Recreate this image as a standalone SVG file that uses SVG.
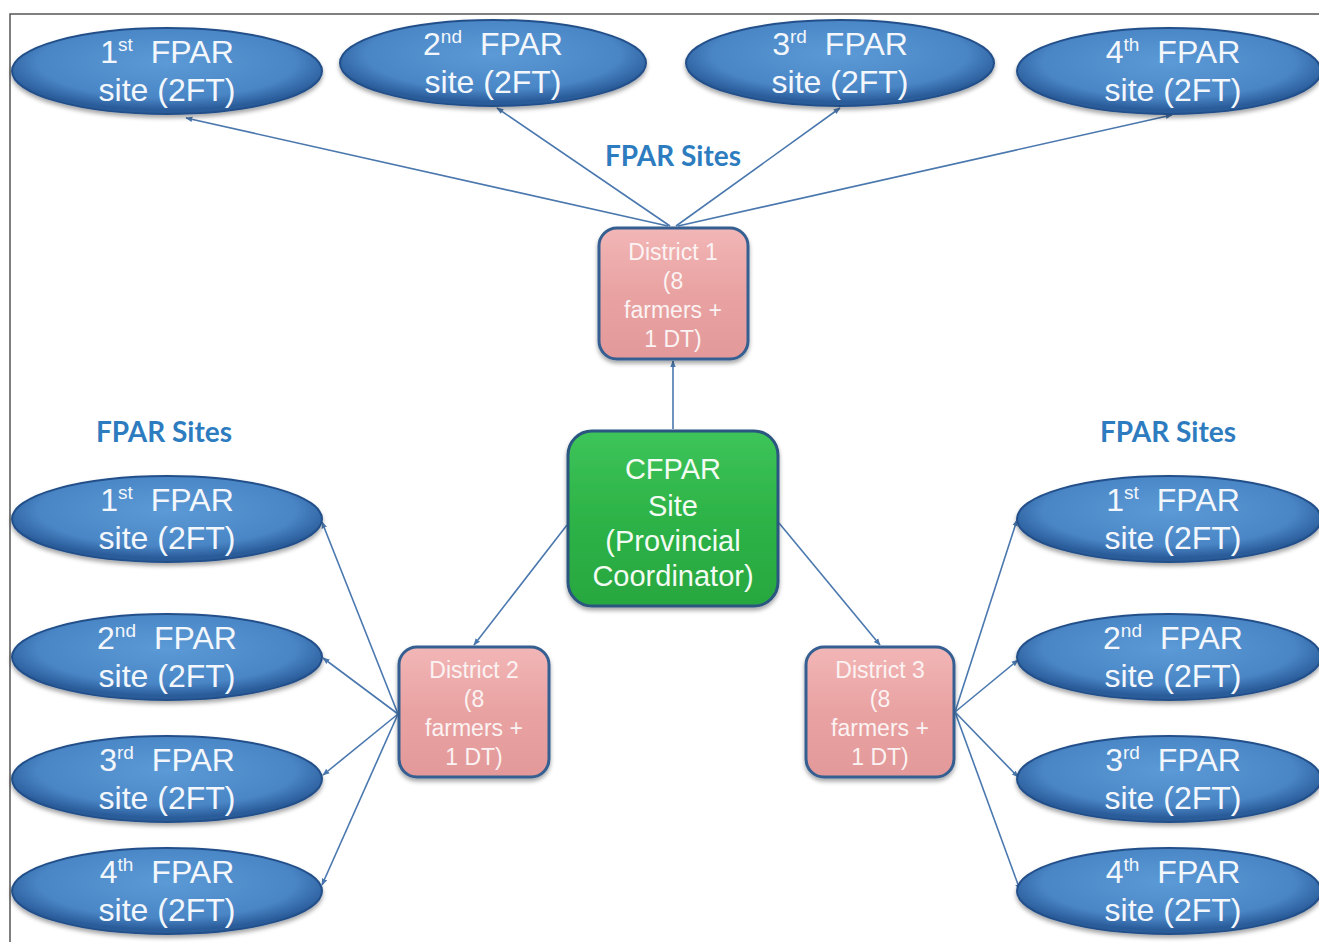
<svg xmlns="http://www.w3.org/2000/svg" width="1319" height="942" viewBox="0 0 1319 942">
<defs>
<radialGradient id="gBlue" cx="50%" cy="40%" r="55%">
<stop offset="0" stop-color="#5b9ad6"/>
<stop offset="0.75" stop-color="#4a86c6"/>
<stop offset="1" stop-color="#2a5c9a"/>
</radialGradient>
<linearGradient id="gPink" x1="0" y1="0" x2="0" y2="1">
<stop offset="0" stop-color="#f2b6b6"/>
<stop offset="0.5" stop-color="#e9a2a2"/>
<stop offset="1" stop-color="#e39999"/>
</linearGradient>
<linearGradient id="gGreen" x1="0" y1="0" x2="0" y2="1">
<stop offset="0" stop-color="#3dc45a"/>
<stop offset="0.5" stop-color="#2db347"/>
<stop offset="1" stop-color="#28a740"/>
</linearGradient>
<filter id="sh" x="-10%" y="-10%" width="120%" height="130%">
<feDropShadow dx="0" dy="3" stdDeviation="2" flood-color="#000" flood-opacity="0.35"/>
</filter>
<marker id="ar" viewBox="0 0 10 10" refX="9" refY="5" markerWidth="7" markerHeight="7" markerUnits="userSpaceOnUse" orient="auto">
<path d="M0,1 L10,5 L0,9 z" fill="#4a78ae"/>
</marker>
</defs>
<style>
.ell{fill:url(#gBlue);stroke:#23508a;stroke-width:2;filter:url(#sh)}
.et{font-family:"Liberation Sans",Arial,sans-serif;font-size:32px;fill:#f3f7fc;text-anchor:middle}
.sup{font-size:19px}
.dist{fill:url(#gPink);stroke:#365f91;stroke-width:3;filter:url(#sh)}
.dt{font-family:"Liberation Sans",Arial,sans-serif;font-size:23px;fill:#fbf3f3;text-anchor:middle}
.cf{fill:url(#gGreen);stroke:#2b5780;stroke-width:3;filter:url(#sh)}
.ct{font-family:"Liberation Sans",Arial,sans-serif;font-size:29px;fill:#f3fbf3;text-anchor:middle}
.lbl{font-family:Lato,"Open Sans",sans-serif;font-weight:bold;font-size:28px;fill:#2e7cc0;text-anchor:middle}
.cn{stroke:#4a78ae;stroke-width:1.6;fill:none;marker-end:url(#ar)}
</style>
<rect width="1319" height="942" fill="#ffffff"/>
<path d="M10,942 L10,14 L1319,14" fill="none" stroke="#555" stroke-width="1.5"/>

<text class="lbl" x="673" y="166">FPAR Sites</text>
<text class="lbl" x="164" y="442">FPAR Sites</text>
<text class="lbl" x="1168" y="442">FPAR Sites</text>

<g id="connectors">
<line class="cn" x1="668" y1="226" x2="186" y2="118"/>
<line class="cn" x1="670" y1="226" x2="497" y2="108"/>
<line class="cn" x1="676" y1="226" x2="840" y2="108"/>
<line class="cn" x1="678" y1="226" x2="1172" y2="115"/>
<line class="cn" x1="673" y1="429" x2="673" y2="361"/>
<line class="cn" x1="567" y1="525" x2="474" y2="645"/>
<line class="cn" x1="779" y1="523" x2="880" y2="645"/>
<line class="cn" x1="398" y1="714" x2="322" y2="522"/>
<line class="cn" x1="398" y1="714" x2="323" y2="658"/>
<line class="cn" x1="398" y1="714" x2="323" y2="775"/>
<line class="cn" x1="398" y1="714" x2="322" y2="885"/>
<line class="cn" x1="955" y1="712" x2="1017" y2="520"/>
<line class="cn" x1="955" y1="712" x2="1018" y2="660"/>
<line class="cn" x1="955" y1="712" x2="1018" y2="777"/>
<line class="cn" x1="955" y1="712" x2="1020" y2="890"/>
</g>

<g id="top1"><ellipse class="ell" cx="167" cy="71" rx="155" ry="43"/>
<text class="et" x="167" y="63">1<tspan class="sup" dy="-12">st</tspan><tspan dy="12" dx="18">FPAR</tspan></text>
<text class="et" x="167" y="101">site (2FT)</text></g>
<g id="top2"><ellipse class="ell" cx="493" cy="63" rx="153" ry="43"/>
<text class="et" x="493" y="55">2<tspan class="sup" dy="-12">nd</tspan><tspan dy="12" dx="18">FPAR</tspan></text>
<text class="et" x="493" y="93">site (2FT)</text></g>
<g id="top3"><ellipse class="ell" cx="840" cy="63" rx="154" ry="43"/>
<text class="et" x="840" y="55">3<tspan class="sup" dy="-12">rd</tspan><tspan dy="12" dx="18">FPAR</tspan></text>
<text class="et" x="840" y="93">site (2FT)</text></g>
<g id="top4"><ellipse class="ell" cx="1169" cy="71" rx="152" ry="43"/>
<text class="et" x="1173" y="63">4<tspan class="sup" dy="-12">th</tspan><tspan dy="12" dx="18">FPAR</tspan></text>
<text class="et" x="1173" y="101">site (2FT)</text></g>

<g id="left1"><ellipse class="ell" cx="167" cy="519" rx="155" ry="43"/>
<text class="et" x="167" y="511">1<tspan class="sup" dy="-12">st</tspan><tspan dy="12" dx="18">FPAR</tspan></text>
<text class="et" x="167" y="549">site (2FT)</text></g>
<g id="left2"><ellipse class="ell" cx="167" cy="657" rx="155" ry="43"/>
<text class="et" x="167" y="649">2<tspan class="sup" dy="-12">nd</tspan><tspan dy="12" dx="18">FPAR</tspan></text>
<text class="et" x="167" y="687">site (2FT)</text></g>
<g id="left3"><ellipse class="ell" cx="167" cy="779" rx="155" ry="43"/>
<text class="et" x="167" y="771">3<tspan class="sup" dy="-12">rd</tspan><tspan dy="12" dx="18">FPAR</tspan></text>
<text class="et" x="167" y="809">site (2FT)</text></g>
<g id="left4"><ellipse class="ell" cx="167" cy="891" rx="155" ry="43"/>
<text class="et" x="167" y="883">4<tspan class="sup" dy="-12">th</tspan><tspan dy="12" dx="18">FPAR</tspan></text>
<text class="et" x="167" y="921">site (2FT)</text></g>

<g id="right1"><ellipse class="ell" cx="1169" cy="519" rx="152" ry="43"/>
<text class="et" x="1173" y="511">1<tspan class="sup" dy="-12">st</tspan><tspan dy="12" dx="18">FPAR</tspan></text>
<text class="et" x="1173" y="549">site (2FT)</text></g>
<g id="right2"><ellipse class="ell" cx="1169" cy="657" rx="152" ry="43"/>
<text class="et" x="1173" y="649">2<tspan class="sup" dy="-12">nd</tspan><tspan dy="12" dx="18">FPAR</tspan></text>
<text class="et" x="1173" y="687">site (2FT)</text></g>
<g id="right3"><ellipse class="ell" cx="1169" cy="779" rx="152" ry="43"/>
<text class="et" x="1173" y="771">3<tspan class="sup" dy="-12">rd</tspan><tspan dy="12" dx="18">FPAR</tspan></text>
<text class="et" x="1173" y="809">site (2FT)</text></g>
<g id="right4"><ellipse class="ell" cx="1169" cy="891" rx="152" ry="43"/>
<text class="et" x="1173" y="883">4<tspan class="sup" dy="-12">th</tspan><tspan dy="12" dx="18">FPAR</tspan></text>
<text class="et" x="1173" y="921">site (2FT)</text></g>

<g id="district1"><rect class="dist" x="599" y="228" width="149" height="131" rx="18"/>
<text class="dt" x="673" y="260">District 1</text>
<text class="dt" x="673" y="289">(8</text>
<text class="dt" x="673" y="318">farmers +</text>
<text class="dt" x="673" y="347">1 DT)</text></g>

<g id="cfpar"><rect class="cf" x="568" y="431" width="210" height="175" rx="24"/>
<text class="ct" x="673" y="479">CFPAR</text>
<text class="ct" x="673" y="516">Site</text>
<text class="ct" x="673" y="551">(Provincial</text>
<text class="ct" x="673" y="586">Coordinator)</text></g>

<g id="district2"><rect class="dist" x="399" y="647" width="150" height="130" rx="18"/>
<text class="dt" x="474" y="678">District 2</text>
<text class="dt" x="474" y="707">(8</text>
<text class="dt" x="474" y="736">farmers +</text>
<text class="dt" x="474" y="765">1 DT)</text></g>

<g id="district3"><rect class="dist" x="806" y="647" width="148" height="130" rx="18"/>
<text class="dt" x="880" y="678">District 3</text>
<text class="dt" x="880" y="707">(8</text>
<text class="dt" x="880" y="736">farmers +</text>
<text class="dt" x="880" y="765">1 DT)</text></g>
</svg>
